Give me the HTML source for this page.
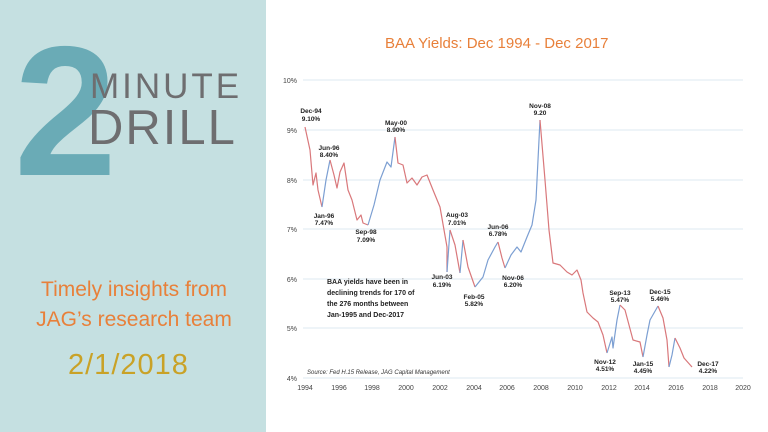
<!DOCTYPE html>
<html><head><meta charset="utf-8"><style>
body{margin:0;width:768px;height:432px;overflow:hidden;background:#fff;font-family:"Liberation Sans",sans-serif;position:relative}
.l{position:absolute;left:0;top:0;width:266px;height:432px;background:#c5e0e1}
.t{position:absolute;white-space:nowrap}
</style></head><body>
<div class="l">
<div class="t" style="left:14px;top:20px;font-size:185px;font-weight:bold;color:#6aabb6;line-height:185px;letter-spacing:-4px">2</div>
<div class="t" style="left:90px;top:70px;font-size:35px;color:#6e6e70;letter-spacing:3px;line-height:34px">MINUTE</div>
<div class="t" style="left:88px;top:104px;font-size:49px;color:#6e6e70;letter-spacing:2px;line-height:49px">DRILL</div>
<div class="t" style="left:34px;top:275px;font-size:21px;color:#e8803a;line-height:30px;text-align:center;width:200px">Timely insights from<br>JAG’s research team</div>
<div class="t" style="left:68px;top:349px;font-size:29px;color:#c9a227;letter-spacing:1px">2/1/2018</div>
</div>
<div class="t" style="left:385px;top:35px;font-size:15px;color:#e8803a">BAA Yields: Dec 1994 - Dec 2017</div>
<svg width="768" height="432" style="position:absolute;left:0;top:0" font-family="Liberation Sans,sans-serif">
<g stroke="#dde8f0" stroke-width="1">
<line x1="303" y1="80" x2="743" y2="80"/><line x1="303" y1="130" x2="743" y2="130"/><line x1="303" y1="180" x2="743" y2="180"/><line x1="303" y1="229" x2="743" y2="229"/><line x1="303" y1="279" x2="743" y2="279"/><line x1="303" y1="328" x2="743" y2="328"/><line x1="303" y1="378" x2="743" y2="378"/>
</g>
<g font-size="7" fill="#444" text-anchor="end">
<text x="297" y="83">10%</text><text x="297" y="133">9%</text><text x="297" y="183">8%</text><text x="297" y="232">7%</text><text x="297" y="282">6%</text><text x="297" y="331">5%</text><text x="297" y="381">4%</text>
</g>
<g font-size="7" fill="#444" text-anchor="middle">
<text x="305" y="390">1994</text><text x="339" y="390">1996</text><text x="372" y="390">1998</text><text x="406" y="390">2000</text><text x="440" y="390">2002</text><text x="474" y="390">2004</text><text x="507" y="390">2006</text><text x="541" y="390">2008</text><text x="575" y="390">2010</text><text x="609" y="390">2012</text><text x="642" y="390">2014</text><text x="676" y="390">2016</text><text x="710" y="390">2018</text><text x="743" y="390">2020</text>
</g>
<g fill="none" stroke-width="1.2" stroke-linejoin="round">
<polyline stroke="#d9787b" points="305,127 310,150 313,185 316,173 318,190 322,207"/>
<polyline stroke="#7c9fd2" points="322,207 326,180 330,160"/>
<polyline stroke="#d9787b" points="330,160 334,175 337,188 340,172 344,163 348,190 352,200 357,220 361,215 363,223 368,225"/>
<polyline stroke="#7c9fd2" points="368,225 374,205 380,180 387,162 391,167 395,137"/>
<polyline stroke="#d9787b" points="395,137 398,163 403,165 407,183 412,178 417,185 422,177 427,175 433,190 440,207 447,247 447,272"/>
<polyline stroke="#7c9fd2" points="447,272 450,230"/>
<polyline stroke="#d9787b" points="450,230 455,245 460,273"/>
<polyline stroke="#7c9fd2" points="460,273 463,240"/>
<polyline stroke="#d9787b" points="463,240 468,267 475,287"/>
<polyline stroke="#7c9fd2" points="475,287 483,277 488,260 495,247 498,242"/>
<polyline stroke="#d9787b" points="498,242 502,258 505,268"/>
<polyline stroke="#7c9fd2" points="505,268 511,255 517,247 521,252 527,237 532,225 536,200 540,120"/>
<polyline stroke="#d9787b" points="540,120 545,180 549,230 553,263 560,265 567,272 572,275 577,270 581,280 583,293 587,312 593,318 598,322 603,335 607,353"/>
<polyline stroke="#7c9fd2" points="607,353 612,337 613,348 617,320 620,305"/>
<polyline stroke="#d9787b" points="620,305 625,310 633,340 640,342 643,357"/>
<polyline stroke="#7c9fd2" points="643,357 647,335 650,320 658,306"/>
<polyline stroke="#d9787b" points="658,306 663,318 667,340 669,367"/>
<polyline stroke="#7c9fd2" points="669,367 672,355 675,338"/>
<polyline stroke="#d9787b" points="675,338 680,348 684,358 692,367"/>
</g>
<g font-size="6.5" font-weight="bold" fill="#222" text-anchor="middle">
<text x="311" y="113">Dec-94</text><text x="311" y="121">9.10%</text>
<text x="329" y="150">Jun-96</text><text x="329" y="157">8.40%</text>
<text x="324" y="218">Jan-96</text><text x="324" y="225">7.47%</text>
<text x="366" y="234">Sep-98</text><text x="366" y="242">7.09%</text>
<text x="396" y="125">May-00</text><text x="396" y="132">8.90%</text>
<text x="457" y="217">Aug-03</text><text x="457" y="225">7.01%</text>
<text x="442" y="279">Jun-03</text><text x="442" y="287">6.19%</text>
<text x="474" y="299">Feb-05</text><text x="474" y="306">5.82%</text>
<text x="498" y="229">Jun-06</text><text x="498" y="236">6.78%</text>
<text x="513" y="280">Nov-06</text><text x="513" y="287">6.20%</text>
<text x="540" y="108">Nov-08</text><text x="540" y="115">9.20</text>
<text x="620" y="295">Sep-13</text><text x="620" y="302">5.47%</text>
<text x="660" y="294">Dec-15</text><text x="660" y="301">5.46%</text>
<text x="605" y="364">Nov-12</text><text x="605" y="371">4.51%</text>
<text x="643" y="366">Jan-15</text><text x="643" y="373">4.45%</text>
<text x="708" y="366">Dec-17</text><text x="708" y="373">4.22%</text>
</g>
<g font-size="7" font-weight="bold" fill="#222">
<text x="327" y="284">BAA yields have been in</text>
<text x="327" y="295">declining trends for 170 of</text>
<text x="327" y="306">the 276 months between</text>
<text x="327" y="317">Jan-1995 and Dec-2017</text>
</g>
<text x="307" y="374" font-size="6" font-style="italic" fill="#333">Source: Fed H.15 Release, JAG Capital Management</text>
</svg>
</body></html>
